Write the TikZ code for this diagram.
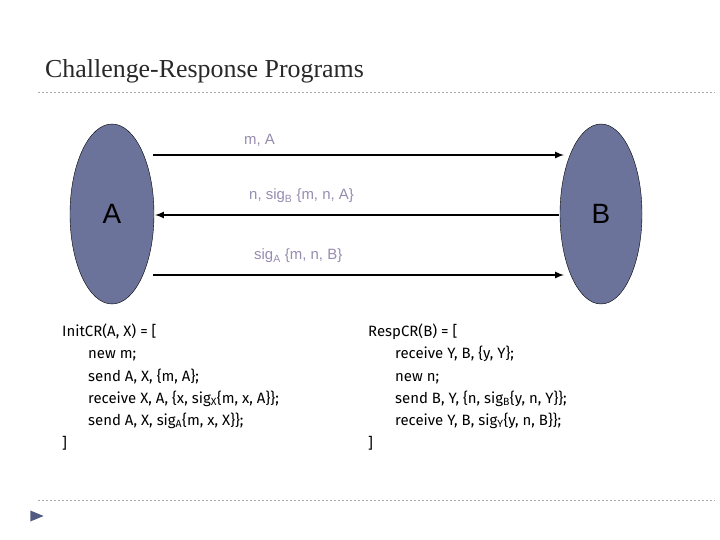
\documentclass[tikz,border=0pt]{standalone}
\usetikzlibrary{shapes.geometric}
\usepackage{fontspec}
\setmainfont{Liberation Serif}
\newfontfamily\lab{Liberation Sans}
\newfontfamily\code{Fira Sans}
\begin{document}
\begin{tikzpicture}[x=1bp,y=-1bp,
  party/.style={draw=black,fill={rgb,255:red,107;green,115;blue,155}},
  msg/.style={-latex,line width=2bp},
  mlab/.style={anchor=west,inner sep=0,text={rgb,255:red,150;green,140;blue,175},font=\lab\fontsize{15}{17}\selectfont},
  cl/.style={anchor=base west,inner sep=0,font=\code\fontsize{15}{17}\selectfont},
  sep/.style={dash pattern=on 2bp off 2bp,draw={rgb,255:red,170;green,170;blue,170},line width=0.8bp}]
\useasboundingbox (0,0) rectangle (720,540);
\node[anchor=base west,inner sep=0,text={rgb,255:red,40;green,40;blue,40},font=\fontsize{26}{28}\selectfont] (title) at (45,78) {Challenge-Response Programs};
\coordinate (l1a) at (38,92); \coordinate (l1b) at (715,92);
\draw[sep] (l1a) -- (l1b);
\coordinate (l2a) at (38,500); \coordinate (l2b) at (715,500);
\draw[sep] (l2a) -- (l2b);
\node[fill={rgb,255:red,80;green,90;blue,130},isosceles triangle,inner sep=0,minimum width=11bp,minimum height=9bp] (bul) at (34,516) {};
\draw[party] (112,214) ellipse [x radius=42,y radius=90];
\draw[party] (601,214) ellipse [x radius=41,y radius=90];
\node[font=\lab\fontsize{28}{30}\selectfont] (A) at (112,214) {A};
\node[font=\lab\fontsize{28}{30}\selectfont] (B) at (601,214) {B};
\coordinate (a1) at (153,155); \coordinate (b1) at (564,155);
\coordinate (a2) at (155,215); \coordinate (b2) at (559,215);
\coordinate (a3) at (153,275); \coordinate (b3) at (564,275);
\draw[msg] (a1) -- (b1);
\draw[msg] (b2) -- (a2);
\draw[msg] (a3) -- (b3);
\node[mlab] (m1) at (244,140) {m, A};
\node[mlab] (m2) at (249,196) {n, sig\textsubscript{B} \{m, n, A\}};
\node[mlab] (m3) at (254,256) {sig\textsubscript{A} \{m, n, B\}};
\node[cl] (c1) at (62,336) {InitCR(A, X) = [};
\node[cl] (c2) at (88,358) {new m;};
\node[cl] (c3) at (88,381) {send A, X, \{m, A\};};
\node[cl] (c4) at (88,403) {receive X, A, \{x, sig\textsubscript{X}\{m, x, A\}\};};
\node[cl] (c5) at (88,425) {send A, X, sig\textsubscript{A}\{m, x, X\}\};};
\node[cl] (c6) at (62,448) {]};
\node[cl] (d1) at (368,336) {RespCR(B) = [};
\node[cl] (d2) at (395,358) {receive Y, B, \{y, Y\};};
\node[cl] (d3) at (395,381) {new n;};
\node[cl] (d4) at (395,403) {send B, Y, \{n, sig\textsubscript{B}\{y, n, Y\}\};};
\node[cl] (d5) at (395,425) {receive Y, B, sig\textsubscript{Y}\{y, n, B\}\};};
\node[cl] (d6) at (368,448) {]};
\end{tikzpicture}
\end{document}
